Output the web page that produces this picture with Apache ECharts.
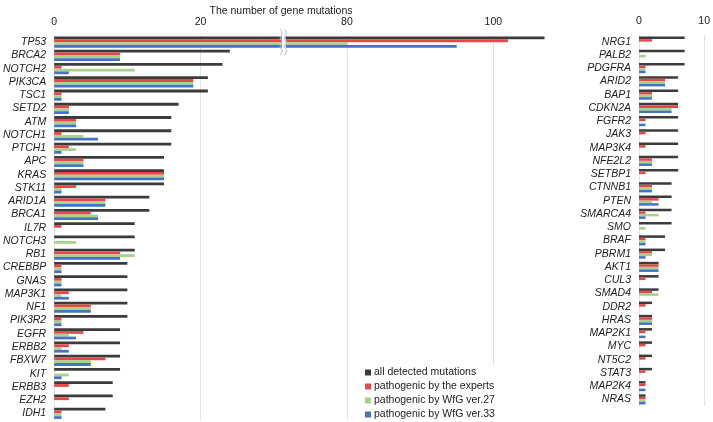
<!DOCTYPE html>
<html><head><meta charset="utf-8">
<script src="https://cdn.jsdelivr.net/npm/echarts@6/dist/echarts.min.js"></script>
<style>html,body{margin:0;padding:0;background:#fff}#c{width:713px;height:422px}</style>
</head><body><div id="c"></div>
<script>
const seriesNames = ['all detected mutations','pathogenic by the experts','pathogenic by WfG ver.27','pathogenic by WfG ver.33'];
const colors = ['#3b3b3b','#e8464a','#a9d18e','#4472c4'];
const leftTicks = [0,20,80,100];
const rightTicks = [0,10];

const leftGenes = ['TP53','BRCA2','NOTCH2','PIK3CA','TSC1','SETD2','ATM','NOTCH1','PTCH1','APC','KRAS','STK11','ARID1A','BRCA1','IL7R','NOTCH3','RB1','CREBBP','GNAS','MAP3K1','NF1','PIK3R2','EGFR','ERBB2','FBXW7','KIT','ERBB3','EZH2','IDH1'];
const leftAll     = [107,24,23,21,21,17,16,16,16,15,15,15,13,13,11,11,11,10,10,10,10,10,9,9,9,9,8,8,7];
const leftExperts = [102,9,1,19,1,2,3,1,2,4,15,3,7,5,1,0,9,1,1,2,5,1,4,2,7,0,2,2,1];
const leftV27     = [80,9,11,19,1,2,3,4,3,4,15,1,7,6,0,3,11,1,1,1,5,1,2,1,5,2,0,0,1];
const leftV33     = [95,9,2,19,1,2,3,6,1,4,15,1,7,6,0,0,9,1,1,2,5,1,3,2,5,1,0,0,1];

const rightGenes = ['NRG1','PALB2','PDGFRA','ARID2','BAP1','CDKN2A','FGFR2','JAK3','MAP3K4','NFE2L2','SETBP1','CTNNB1','PTEN','SMARCA4','SMO','BRAF','PBRM1','AKT1','CUL3','SMAD4','DDR2','HRAS','MAP2K1','MYC','NT5C2','STAT3','MAP2K4','NRAS'];
const rightAll     = [7,7,7,6,6,6,6,6,6,6,6,5,5,5,5,4,4,3,3,3,2,2,2,2,2,2,1,1];
const rightExperts = [2,0,1,4,2,6,1,1,1,2,1,2,3,1,0,1,2,3,1,2,1,2,1,1,1,1,1,1];
const rightV27     = [0,1,1,4,2,5,0,0,0,2,0,2,2,3,1,1,2,3,0,3,0,2,0,0,0,0,0,1];
const rightV33     = [0,0,1,4,2,5,1,0,0,2,0,2,3,1,0,1,1,3,0,0,0,2,1,0,0,0,1,1];

const breakStart = 31, breakEnd = 71.6;

const font = 'Liberation Sans, Arial, sans-serif';
const fs = 10.5;
const leftData = [leftAll, leftExperts, leftV27, leftV33];
const rightData = [rightAll, rightExperts, rightV27, rightV33];

const series = [];
seriesNames.forEach((n,i)=>{
  series.push({type:'bar',name:n,xAxisIndex:0,yAxisIndex:0,data:leftData[i],
    itemStyle:{color:colors[i]},barGap:'0%',barCategoryGap:'16%',silent:true});
});
seriesNames.forEach((n,i)=>{
  series.push({type:'bar',name:n,xAxisIndex:1,yAxisIndex:1,data:rightData[i],
    itemStyle:{color:colors[i]},barGap:'0%',barCategoryGap:'24%',silent:true});
});

const chart = echarts.init(document.getElementById('c'));
chart.setOption({
  animation:false,
  textStyle:{fontFamily:font},
  title:{text:'The number of gene mutations',left:276,top:1,textAlign:'center',
    textStyle:{fontSize:fs,fontWeight:'normal',color:'#222',fontFamily:font}},
  legend:{data:seriesNames,orient:'vertical',left:361,top:365,itemWidth:6,itemHeight:6,itemGap:3,
    icon:'rect',backgroundColor:'#fff',padding:[2,4,2,4],
    textStyle:{fontSize:fs,color:'#222',fontFamily:font,padding:[0,0,0,-2]}},
  grid:[
    {left:52,top:35.5,width:514.5,height:384.5},
    {left:639,top:35,width:67,height:371}
  ],
  xAxis:[
    {type:'value',gridIndex:0,position:'top',min:0,max:110,
      breaks:[{start:breakStart,end:breakEnd,gap:0.6}],
      breakArea:{show:true,itemStyle:{color:'#fff',borderColor:'#fff',borderWidth:0,opacity:1},zigzagAmplitude:0.5},
      axisLine:{show:false},axisTick:{show:false,customValues:leftTicks},
      axisLabel:{fontSize:fs,color:'#222',margin:8,fontFamily:font,customValues:leftTicks},
      splitLine:{show:true,lineStyle:{color:'#e2e2e2',width:1}}},
    {type:'value',gridIndex:1,position:'top',min:0,max:10,interval:10,
      axisLine:{show:false},axisTick:{show:false},
      axisLabel:{fontSize:fs,color:'#222',margin:8,fontFamily:font,
        formatter:v=>rightTicks.indexOf(v)>=0?String(v):''},
      splitLine:{show:true,lineStyle:{color:'#e2e2e2',width:1}}}
  ],
  yAxis:[
    {type:'category',gridIndex:0,data:leftGenes,inverse:true,
      axisLine:{show:true,lineStyle:{color:'#e2e2e2'}},axisTick:{show:false},
      axisLabel:{fontSize:fs,fontStyle:'italic',color:'#222',margin:8,fontFamily:font,interval:0}},
    {type:'category',gridIndex:1,data:rightGenes,inverse:true,
      axisLine:{show:true,lineStyle:{color:'#e2e2e2'}},axisTick:{show:false},
      axisLabel:{fontSize:fs,fontStyle:'italic',color:'#222',margin:8,fontFamily:font,interval:0}}
  ],
  series:series
});

// break marks across the first row, positioned from the axis scale
const xs = chart.convertToPixel({xAxisIndex:0}, breakStart);
const xe = chart.convertToPixel({xAxisIndex:0}, breakEnd);
const yc = chart.convertToPixel({yAxisIndex:0}, leftGenes[0]);
function wave(x){
  const pts=[];
  const h=13;
  for(let k=0;k<=6;k++){
    const y=yc-h+k*(2*h/6);
    const dx=(k%2===0)?-0.9:0.9;
    pts.push([x+dx,y]);
  }
  return pts;
}
chart.setOption({graphic:[
  {type:'polyline',shape:{points:wave(xs),smooth:0.6},style:{stroke:'#a9b9d4',lineWidth:1,fill:null},z:100},
  {type:'polyline',shape:{points:wave(xe),smooth:0.6},style:{stroke:'#a9b9d4',lineWidth:1,fill:null},z:100}
]});
</script></body></html>
